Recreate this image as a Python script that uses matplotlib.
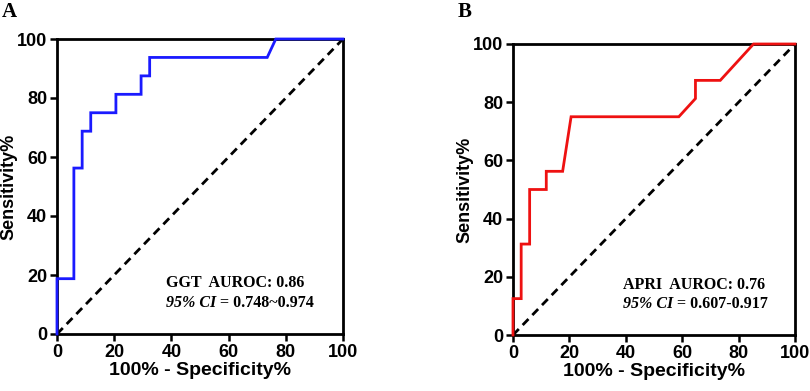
import matplotlib.pyplot as plt

# ROC curve points (100% - specificity, sensitivity)
ggt_fpr = [0, 0, 5.9, 5.9, 8.8, 8.8, 11.8, 11.8, 20.6, 20.6, 29.4, 29.4, 32.4, 32.4, 73.5, 76.5, 100]
ggt_tpr = [0, 18.75, 18.75, 56.25, 56.25, 68.75, 68.75, 75, 75, 81.25, 81.25, 87.5, 87.5, 93.75, 93.75, 100, 100]

apri_fpr = [0, 0, 2.9, 2.9, 5.9, 5.9, 11.8, 11.8, 17.6, 20.6, 58.8, 64.7, 64.7, 73.5, 85.3, 100]
apri_tpr = [0, 12.5, 12.5, 31.25, 31.25, 50, 50, 56.25, 56.25, 75, 75, 81.25, 87.5, 87.5, 100, 100]

ticks = [0, 20, 40, 60, 80, 100]

plt.rcParams['font.family'] = ['Liberation Sans', 'DejaVu Sans']

fig = plt.figure(figsize=(8.1, 3.91), dpi=100)
W, H = 810, 391

def make_ax(left, right, top, bottom):
    return fig.add_axes([left / W, 1 - bottom / H, (right - left) / W, (bottom - top) / H])

ax1 = make_ax(57, 343, 39, 334)
ax2 = make_ax(513, 795, 44, 335)

panels = [
    (ax1, ggt_fpr, ggt_tpr, '#1a1aff', 'GGT  AUROC: 0.86', '0.748~0.974', 38, 'A', 2),
    (ax2, apri_fpr, apri_tpr, '#ee1111', 'APRI  AUROC: 0.76', '0.607-0.917', 39, 'B', 458),
]

for ax, fpr, tpr, col, line1, ci, tx, letter, lx in panels:
    ax.plot([0, 100], [0, 100], color='black', lw=2, ls=(0, (3, 2)))
    ax.plot(fpr, tpr, color=col, lw=2, solid_joinstyle='miter', clip_on=False, zorder=3)
    ax.set_xlim(0, 100)
    ax.set_ylim(0, 100)
    ax.set_xticks(ticks)
    ax.set_yticks(ticks)
    for s in ax.spines.values():
        s.set_linewidth(2)
    ax.tick_params(direction='out', length=5, width=1.8, labelsize=13, pad=2)
    for lab in ax.get_xticklabels() + ax.get_yticklabels():
        lab.set_fontweight('bold')
    ax.set_xlabel('100% - Specificity%', fontsize=14, fontweight='bold', labelpad=1)
    ax.set_ylabel('Sensitivity%', fontsize=13, fontweight='bold', labelpad=0)
    ax.text(tx, 17.3, line1, fontsize=11.5, fontweight='bold', family='Liberation Serif',
            va='center', ha='left')
    ci_txt = ax.text(tx, 10.6, '95% CI', fontsize=11.5, fontweight='bold', style='italic',
                     family='Liberation Serif', va='center', ha='left')
    ax.annotate(' = ' + ci, xy=(1, 0.5), xycoords=ci_txt, fontsize=11.5, fontweight='bold',
                family='Liberation Serif', va='center', ha='left')
    fig.text(lx / W, 1 - 12 / H, letter, fontsize=15, fontweight='bold',
             family='Liberation Serif', va='center', ha='left')

fig.savefig('out.png', dpi=100)
